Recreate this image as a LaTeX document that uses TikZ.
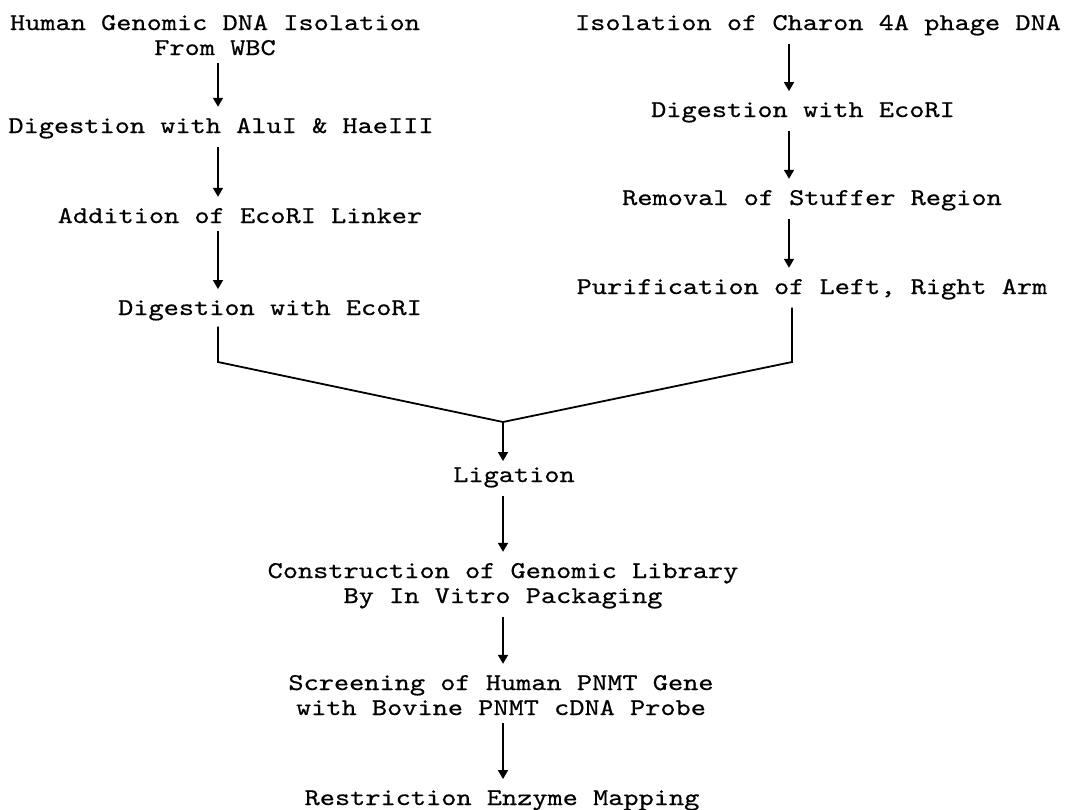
\documentclass[tikz,border=0pt]{standalone}
\usepackage{fontspec}
\newfontfamily\typefont{lmmono10-regular.otf}[FakeStretch=1.2, FakeBold=0.5]
\usetikzlibrary{arrows.meta}

\begin{document}
\begin{tikzpicture}[x=1pt,y=-1pt,
    txt/.style={font=\typefont\fontsize{24.1}{25}\selectfont, inner sep=0pt, anchor=base, align=center},
    flow/.style={-{Triangle[width=10pt,length=9pt]}, line width=1.6pt, shorten <=8pt, shorten >=11pt},
    joinline/.style={line width=1.8pt, line join=miter}]
\useasboundingbox (0,0) rectangle (1071,809);
% left branch
\node[txt] (hum) at (215,55) {Human Genomic DNA Isolation\\From WBC};
\node[txt] (alu) at (221,133) {Digestion with AluI \& HaeIII};
\node[txt] (lnk) at (240,223) {Addition of EcoRI Linker};
\node[txt] (ecoL) at (270,315) {Digestion with EcoRI};
% right branch
\node[txt] (cha) at (818,30) {Isolation of Charon 4A phage DNA};
\node[txt] (ecoR) at (803,117) {Digestion with EcoRI};
\node[txt] (stuf) at (812,205) {Removal of Stuffer Region};
\node[txt] (arm) at (812,294) {Purification of Left, Right Arm};
% common part
\node[txt] (lig) at (514,482) {Ligation};
\node[txt] (lib) at (503,603) {Construction of Genomic Library\\By In Vitro Packaging};
\node[txt] (scr) at (501,715) {Screening of Human PNMT Gene\\with Bovine PNMT cDNA Probe};
\node[txt] (map) at (502,805) {Restriction Enzyme Mapping};

\coordinate (lx) at (218,0);
\coordinate (rx) at (789,0);
\coordinate (lbend) at (218,362);
\coordinate (rbend) at (792,362);
\coordinate (join) at (503,422);

\draw[flow] (hum.south -| lx) -- (alu.north -| lx);
\draw[flow] (alu.south -| lx) -- (lnk.north -| lx);
\draw[flow] (lnk.south -| lx) -- (ecoL.north -| lx);
\draw[flow] (cha.south -| rx) -- (ecoR.north -| rx);
\draw[flow] (ecoR.south -| rx) -- (stuf.north -| rx);
\draw[flow] (stuf.south -| rx) -- (arm.north -| rx);
% both arms meet
\draw[joinline] (ecoL.south -| lbend) ++(0,6) -- (lbend) -- (join) -- (rbend) -- ([yshift=-8pt]arm.south -| rbend);
\draw[flow, shorten <=0pt, shorten >=6pt] (join) -- (lig.north -| join);
\draw[flow] (lig.south -| join) -- (lib.north -| join);
\draw[flow] (lib.south -| join) -- (scr.north -| join);
\draw[flow] (scr.south -| join) -- (map.north -| join);
\end{tikzpicture}
\end{document}
